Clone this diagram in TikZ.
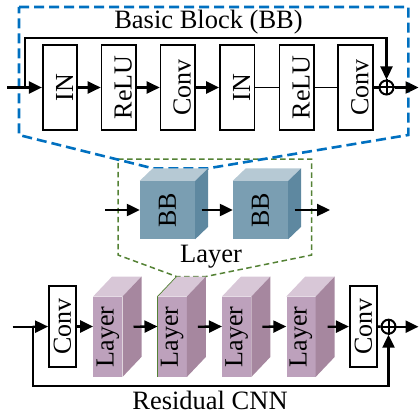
\documentclass[tikz,border=0pt]{standalone}
\usepackage{fontspec}
\setmainfont{Liberation Serif}
\usetikzlibrary{arrows.meta,calc}
\definecolor{bbfront}{HTML}{7A9EB2}
\definecolor{bbtop}{HTML}{B6C9D4}
\definecolor{bbside}{HTML}{5E88A0}
\definecolor{lyfront}{HTML}{BDA1BC}
\definecolor{lytop}{HTML}{D8C7D7}
\definecolor{lyside}{HTML}{A6879F}
\definecolor{bbblue}{HTML}{0070C0}
\definecolor{lygreen}{HTML}{548235}
\pgfdeclarelayer{bg}
\pgfsetlayers{bg,main}
\newcommand{\cubefaces}[4]{%
  \fill[#4top] (#1.north west) -- ++(#2,-#3) -- ($(#1.north east)+(#2,-#3)$) -- (#1.north east) -- cycle;
  \fill[#4side] (#1.north east) -- ++(#2,-#3) -- ($(#1.south east)+(#2,-#3)$) -- (#1.south east) -- cycle;}
\newcommand{\vt}[1]{\rotatebox{90}{\rule{0pt}{26pt}#1}}
\begin{document}
\begin{tikzpicture}[x=1pt,y=-1pt,
  conn/.style={line width=2.3pt, -{Triangle[length=13pt,width=12pt]}},
  plain/.style={line width=2.3pt},
  thinline/.style={line width=1.4pt},
  blockbox/.style={draw, line width=1.7pt, minimum width=34.5pt, minimum height=85pt, inner sep=0pt, font=\fontsize{26}{30}\selectfont},
  convbox/.style={draw, line width=1.7pt, minimum width=27pt, minimum height=80.7pt, inner sep=0pt, font=\fontsize{26}{30}\selectfont},
  bbface/.style={fill=bbfront, minimum width=55pt, minimum height=58pt, inner sep=0pt, font=\fontsize{26}{30}\selectfont},
  lyface/.style={fill=lyfront, minimum width=29pt, minimum height=80pt, inner sep=0pt, font=\fontsize{26}{30}\selectfont},
  plusnode/.style={circle, draw, line width=2pt, minimum size=14pt, inner sep=0pt},
  title/.style={inner sep=0pt, font=\fontsize{26.5}{30}\selectfont},
  bluedash/.style={draw=bbblue, line width=2.6pt, dash pattern=on 10pt off 5pt},
  greendash/.style={draw=lygreen, line width=1.5pt, dash pattern=on 5.5pt off 3.5pt}
]
\useasboundingbox (0,0) rectangle (419,414);
% ---- Basic block ----
\node[title] (ttl) at (208.5,22) {Basic Block (BB)};
\node[blockbox] (in1) at (60,87.5) {\vt{IN}};
\node[blockbox] (re1) at (118.8,87.5) {\vt{ReLU}};
\node[blockbox] (cv1) at (177.8,87.5) {\vt{Conv}};
\node[blockbox] (in2) at (237.2,87.5) {\vt{IN}};
\node[blockbox] (re2) at (296.7,87.5) {\vt{ReLU}};
\node[blockbox] (cv2) at (355.5,87.5) {\vt{Conv}};
\node[plusnode] (tp) at (386.5,87.5) {};
\draw[line width=2pt] (tp.north) -- (tp.south) (tp.west) -- (tp.east);
\coordinate (tin) at (7,87.5);
\coordinate (tbr) at (25,87.5);
\coordinate (tskip) at (386.5,37.7);
\coordinate (tout) at (418.5,87.5);
\draw[plain] (tin) -- (tbr);
\draw[conn] (tbr) -- (in1);
\draw[conn] (in1) -- (re1);
\draw[conn] (re1) -- (cv1);
\draw[conn] (cv1) -- (in2);
\draw[thinline] (in2) -- (re2);
\draw[thinline] (re2) -- (cv2);
\draw[plain] (cv2) -- (tp);
\draw[conn] (tp) -- (tout);
\draw[conn] (tbr) |- (tskip) -- (tp.north);
% ---- Layer ----
\node[bbface] (bb1) at (167.5,210) {\rotatebox{90}{BB}};
\cubefaces{bb1}{13}{12.5}{bb}
\node[bbface] (bb2) at (260.5,210) {\rotatebox{90}{BB}};
\cubefaces{bb2}{13}{12.5}{bb}
\coordinate (bbtl) at ($(bb1.north west)+(13,-12.5)$);
\coordinate (bbtr) at ($(bb1.north east)+(13,-12.5)$);
\coordinate (lin) at (105,210);
\coordinate (lout) at (330,210);
\draw[conn] (lin) -- (bb1);
\draw[conn] ($(bb1.east)+(6.5,0)$) -- (bb2);
\draw[conn] ($(bb2.east)+(6.5,0)$) -- (lout);
\node[title] (lyt) at (211,256.5) {Layer};
% ---- Residual CNN ----
\node[convbox] (cvl) at (62.5,326.5) {\rotatebox{90}{Conv}};
\node[lyface] (L1) at (107.8,336.7) {\rotatebox{90}{Layer}};
\cubefaces{L1}{19}{20}{ly}
\node[lyface] (L2) at (172.2,336.7) {\rotatebox{90}{Layer}};
\cubefaces{L2}{19}{20}{ly}
\draw[lygreen, line width=0.7pt] (L2.south west) -- (L2.north west) -- ++(19,-20);
\node[lyface] (L3) at (236.7,336.7) {\rotatebox{90}{Layer}};
\cubefaces{L3}{19}{20}{ly}
\node[lyface] (L4) at (301,336.7) {\rotatebox{90}{Layer}};
\cubefaces{L4}{19}{20}{ly}
\node[convbox] (cvr) at (363.3,326.5) {\rotatebox{90}{Conv}};
\node[plusnode] (rp) at (388.5,326.7) {};
\draw[line width=2pt] (rp.north) -- (rp.south) (rp.west) -- (rp.east);
\coordinate (l2tl) at ($(L2.north west)+(19,-20)$);
\coordinate (l2tr) at ($(L2.north east)+(19,-20)$);
\coordinate (rin) at (12.7,326.7);
\coordinate (rbr) at (32.7,326.7);
\coordinate (rfb) at (388.5,385.7);
\coordinate (rout) at (418.5,326.7);
\draw[plain] (rin) -- (rbr);
\draw[conn] (rbr) -- (cvl);
\draw[conn] (cvl) -- (L1.west |- cvl);
\draw[conn] ($(L1.east)+(11,-10)$) -- (L2.west |- cvl);
\draw[conn] ($(L2.east)+(11,-10)$) -- (L3.west |- cvl);
\draw[conn] ($(L3.east)+(11,-10)$) -- (L4.west |- cvl);
\draw[conn] ($(L4.east)+(12,-10)$) -- (cvr);
\draw[plain] (cvr) -- (rp);
\draw[conn] (rp) -- (rout);
\draw[conn] (rbr) |- (rfb) -- (rp.south);
\node[title] (rct) at (210,400.5) {Residual CNN};
% ---- dashed outlines ----
\begin{pgfonlayer}{bg}
\draw[greendash] (118,159) -- (311.7,159) -- (311.7,255) -- (l2tr) -- (l2tl) -- (118,255) -- cycle;
\draw[bluedash] (19,7) -- (408.3,7) -- (408.3,135) -- (bbtr) -- (bbtl) -- (19,135) -- cycle;
\end{pgfonlayer}
\end{tikzpicture}
\end{document}
